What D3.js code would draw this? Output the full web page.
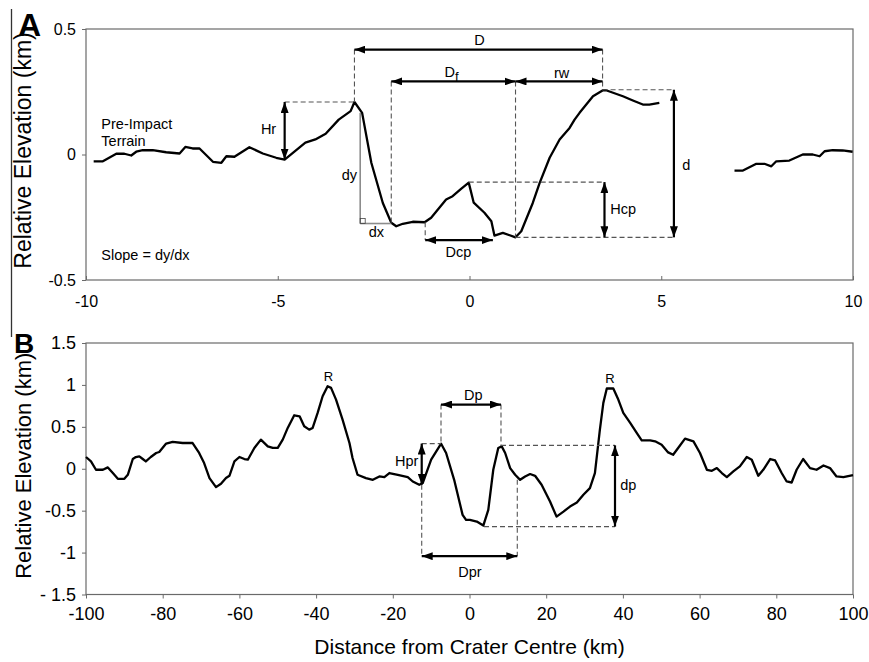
<!DOCTYPE html>
<html><head><meta charset="utf-8">
<script src="https://cdn.jsdelivr.net/npm/d3@7"></script>
<style>body{margin:0;background:#fff}</style>
</head><body>
<svg id="c" width="869" height="662"></svg>
<script>
// ---------- DATA ----------
// Panel A profile (km, km)
const profileA_west = [[-9.80,-0.027],[-9.56,-0.027],[-9.21,0.003],[-9.00,0.003],[-8.82,-0.004],[-8.69,0.011],[-8.52,0.017],[-8.26,0.017],[-7.91,0.009],[-7.56,0.004],[-7.41,0.030],[-7.22,0.024],[-7.04,0.024],[-6.69,-0.029],[-6.47,-0.033],[-6.34,-0.007],[-6.13,-0.009],[-5.74,0.029],[-5.39,0.004],[-5.04,-0.013],[-4.82,-0.020],[-4.28,0.047],[-4.02,0.060],[-3.75,0.083],[-3.41,0.139],[-3.10,0.173],[-3.00,0.209],[-2.80,0.166],[-2.56,-0.033],[-2.26,-0.193],[-2.04,-0.272],[-1.91,-0.286],[-1.74,-0.276],[-1.48,-0.268],[-1.17,-0.270],[-1.00,-0.252],[-0.61,-0.179],[-0.44,-0.166],[-0.22,-0.137],[-0.02,-0.112],[0.11,-0.192],[0.39,-0.232],[0.57,-0.266],[0.65,-0.323],[0.87,-0.312],[1.20,-0.330],[1.35,-0.306],[1.65,-0.193],[1.83,-0.113],[2.09,-0.013],[2.35,0.060],[2.61,0.106],[2.74,0.139],[2.87,0.166],[3.22,0.232],[3.48,0.256],[3.56,0.256],[4.00,0.232],[4.26,0.215],[4.52,0.199],[4.69,0.199],[4.95,0.206]];
const profileA_east = [[6.91,-0.064],[7.13,-0.064],[7.48,-0.037],[7.69,-0.037],[7.87,-0.047],[8.00,-0.027],[8.34,-0.024],[8.69,0.000],[8.95,0.000],[9.13,-0.007],[9.26,0.013],[9.47,0.017],[9.73,0.016],[9.99,0.011]];
const ticksAx = [-10,-5,0,5,10];
const tickLabelsAx = ["-10","-5","0","5","10"];
const ticksAy = [-0.5,0,0.5];
const tickLabelsAy = ["-0.5","0","0.5"];

// Panel B profile (km, km)
const profileB = [[-100.0,0.14],[-98.7,0.087],[-97.4,-0.012],[-95.6,-0.012],[-94.3,0.016],[-93.0,-0.051],[-91.7,-0.12],[-90.0,-0.12],[-89.1,-0.072],[-87.8,0.116],[-87.0,0.14],[-86.1,0.147],[-85.2,0.116],[-84.4,0.087],[-83.1,0.14],[-81.7,0.188],[-80.9,0.2],[-79.1,0.3],[-77.4,0.32],[-74.8,0.307],[-72.2,0.307],[-70.5,0.188],[-69.2,0.068],[-67.8,-0.111],[-66.1,-0.219],[-64.8,-0.179],[-63.5,-0.111],[-62.6,-0.084],[-61.3,0.087],[-60.0,0.14],[-58.7,0.116],[-57.8,0.108],[-56.1,0.248],[-54.4,0.347],[-52.6,0.267],[-51.3,0.248],[-50.0,0.248],[-48.7,0.347],[-47.4,0.487],[-45.7,0.638],[-44.3,0.626],[-43.1,0.506],[-41.8,0.467],[-40.9,0.487],[-39.6,0.666],[-38.3,0.865],[-37.0,0.984],[-36.1,0.965],[-34.8,0.825],[-33.1,0.586],[-31.3,0.307],[-30.5,0.128],[-29.2,-0.072],[-27.0,-0.111],[-25.2,-0.132],[-23.5,-0.092],[-22.2,-0.099],[-20.9,-0.051],[-18.7,-0.072],[-16.1,-0.099],[-14.8,-0.152],[-13.1,-0.191],[-12.2,-0.171],[-10.0,0.108],[-7.4,0.299],[-6.1,0.188],[-4.0,-0.132],[-1.8,-0.55],[-0.9,-0.61],[0.1,-0.61],[1.9,-0.63],[3.6,-0.678],[4.9,-0.49],[6.2,-0.012],[7.5,0.248],[8.4,0.267],[9.3,0.188],[10.6,0.008],[11.9,-0.072],[13.2,-0.132],[14.5,-0.092],[15.8,-0.063],[17.1,-0.084],[18.8,-0.191],[21.0,-0.391],[22.7,-0.571],[24.5,-0.511],[26.2,-0.451],[28.0,-0.403],[29.7,-0.311],[31.4,-0.231],[32.7,-0.051],[34.0,0.467],[34.9,0.786],[35.8,0.957],[37.5,0.957],[38.8,0.825],[40.1,0.666],[41.9,0.547],[43.6,0.427],[44.9,0.339],[47.1,0.339],[48.4,0.327],[50.1,0.287],[51.8,0.195],[53.1,0.167],[54.4,0.248],[56.2,0.359],[58.4,0.327],[60.1,0.188],[61.9,-0.012],[63.2,-0.024],[64.5,0.008],[65.8,-0.051],[67.1,-0.099],[68.8,-0.032],[70.5,0.028],[72.3,0.14],[73.6,0.108],[75.3,-0.084],[76.6,-0.012],[78.4,0.116],[79.7,0.099],[81.4,-0.051],[82.7,-0.152],[84.0,-0.164],[85.3,-0.012],[87.0,0.116],[88.8,0.008],[90.5,-0.012],[92.3,0.039],[94.0,0.008],[95.7,-0.092],[97.5,-0.099],[100.0,-0.075]];
const ticksBx = [-100,-80,-60,-40,-20,0,20,40,60,80,100];
const tickLabelsBx = ["-100","-80","-60","-40","-20","0","20","40","60","80","100"];
const ticksBy = [-1.5,-1,-0.5,0,0.5,1,1.5];
const tickLabelsBy = ["- 1.5","-1","-0.5","0","0.5","1","1.5"];

// Annotation geometry (data units)
const dashedA = [[-3.0,0.418,-3.0,0.209],[3.47,0.418,3.47,0.256],[-2.04,0.291,-2.04,-0.272],[1.20,0.291,1.20,-0.330],[-4.82,0.209,-3.0,0.209],[-0.02,-0.110,3.52,-0.110],[1.20,-0.330,5.33,-0.330],[3.47,0.258,5.33,0.258],[-1.155,-0.27,-1.155,-0.341]];
const arrowsA = [[-3.0,0.418,3.47,0.418],[-2.04,0.291,1.20,0.291],[1.20,0.291,3.47,0.291],[-4.82,0.209,-4.82,-0.020],[3.52,-0.110,3.52,-0.330],[5.33,0.258,5.33,-0.330],[-1.155,-0.341,0.61,-0.341]];
const greyA = [[-2.85,0.166,-2.85,-0.275],[-2.85,-0.275,-2.04,-0.275]];
const labelsA = [
  {t:"D",x:0.26,y:0.458,a:"middle"},
  {t:"rw",x:2.40,y:0.325,a:"middle"},
  {t:"Hr",x:-5.24,y:0.10,a:"middle"},
  {t:"dy",x:-3.13,y:-0.08,a:"middle"},
  {t:"dx",x:-2.43,y:-0.31,a:"middle"},
  {t:"Hcp",x:3.67,y:-0.219,a:"start"},
  {t:"d",x:5.55,y:-0.04,a:"start"},
  {t:"Dcp",x:-0.29,y:-0.39,a:"middle"},
  {t:"Pre-Impact",x:-9.60,y:0.12,a:"start"},
  {t:"Terrain",x:-9.60,y:0.053,a:"start"},
  {t:"Slope = dy/dx",x:-9.60,y:-0.402,a:"start"}
];
const labelDf = {x:-0.47,y:0.327};

const dashedB = [[-7.43,0.766,-7.43,0.30],[8.21,0.766,8.21,0.27],[-12.46,0.30,-7.43,0.30],[8.21,0.279,37.94,0.279],[3.78,-0.69,37.94,-0.69],[-12.46,-0.19,-12.46,-1.043],[12.46,-0.13,12.46,-1.043]];
const arrowsB = [[-7.43,0.766,8.21,0.766],[-12.46,0.30,-12.46,-0.19],[37.94,0.279,37.94,-0.69],[-12.46,-1.043,12.46,-1.043]];
const labelsB = [
  {t:"R",x:-36.8,y:1.104,a:"middle",s:13},
  {t:"R",x:36.6,y:1.073,a:"middle",s:13},
  {t:"Dp",x:1.0,y:0.885,a:"middle"},
  {t:"Hpr",x:-16.4,y:0.087,a:"middle"},
  {t:"dp",x:41.4,y:-0.19,a:"middle"},
  {t:"Dpr",x:0.13,y:-1.23,a:"middle"}
];

// ---------- DRAW ----------
const FONT = "Arial, 'Liberation Sans', Helvetica, sans-serif";
const svg = d3.select("#c").style("font-family", FONT);

const defs = svg.append("defs");
defs.append("marker").attr("id","ah").attr("viewBox","0 0 11 8")
  .attr("refX",11).attr("refY",4).attr("markerWidth",11).attr("markerHeight",8)
  .attr("markerUnits","userSpaceOnUse").attr("orient","auto-start-reverse")
  .append("path").attr("d","M0,0L11,4L0,8Z").attr("fill","#000");

const xA = d3.scaleLinear().domain([-10,10]).range([86,853]);
const yA = d3.scaleLinear().domain([-0.5,0.5]).range([280,29]);
const xB = d3.scaleLinear().domain([-100,100]).range([86,853]);
const yB = d3.scaleLinear().domain([-1.5,1.5]).range([594.5,343]);

// stray left rule
svg.append("line").attr("x1",11.5).attr("x2",11.5).attr("y1",9).attr("y2",337)
  .attr("stroke","#333").attr("stroke-width",1.3);

function panel(x, y, xt, xtl, yt, ytl, tickFs, inwardX) {
  const g = svg.append("g");
  const [x0,x1] = x.range(), [y0,y1] = y.range();
  g.append("rect").attr("x",x0).attr("y",y1).attr("width",x1-x0).attr("height",y0-y1)
    .attr("fill","none").attr("stroke","#6a6a6a").attr("stroke-width",1.2);
  const ax = g.append("g").attr("transform",`translate(0,${y0})`)
    .call(d3.axisBottom(x).tickValues(xt).tickSize(inwardX ? -4 : 4).tickPadding(inwardX ? 16 : 9).tickFormat((d,i)=>xtl[i]));
  const ay = g.append("g").attr("transform",`translate(${x0},0)`)
    .call(d3.axisLeft(y).tickValues(yt).tickSize(4).tickPadding(6).tickFormat((d,i)=>ytl[i]));
  [ax,ay].forEach(a=>{
    a.select(".domain").remove();
    a.selectAll("line").attr("stroke","#6a6a6a");
    a.selectAll("text").attr("font-size",tickFs).attr("font-family",FONT).attr("fill","#000");
  });
  return g;
}

panel(xA, yA, ticksAx, tickLabelsAx, ticksAy, tickLabelsAy, 16, true);
panel(xB, yB, ticksBx, tickLabelsBx, ticksBy, tickLabelsBy, 18, false);

// profiles
const lineA = d3.line().x(d=>xA(d[0])).y(d=>yA(d[1]));
const lineB = d3.line().x(d=>xB(d[0])).y(d=>yB(d[1]));
[profileA_west, profileA_east].forEach(p=>{
  svg.append("path").attr("d",lineA(p)).attr("fill","none").attr("stroke","#000")
    .attr("stroke-width",2.3).attr("stroke-linejoin","round");
});
svg.append("path").attr("d",lineB(profileB)).attr("fill","none").attr("stroke","#000")
  .attr("stroke-width",2.3).attr("stroke-linejoin","round");

// annotations
function drawAnn(x, y, dashed, arrows, labels) {
  const g = svg.append("g");
  g.selectAll(".dash").data(dashed).join("line")
    .attr("x1",d=>x(d[0])).attr("y1",d=>y(d[1])).attr("x2",d=>x(d[2])).attr("y2",d=>y(d[3]))
    .attr("stroke","#555").attr("stroke-width",1.1).attr("stroke-dasharray","5,3");
  g.selectAll(".arr").data(arrows).join("line")
    .attr("x1",d=>x(d[0])).attr("y1",d=>y(d[1])).attr("x2",d=>x(d[2])).attr("y2",d=>y(d[3]))
    .attr("stroke","#000").attr("stroke-width",2.2)
    .attr("marker-start","url(#ah)").attr("marker-end","url(#ah)");
  g.selectAll(".lab").data(labels).join("text")
    .attr("x",d=>x(d.x)).attr("y",d=>y(d.y)).attr("text-anchor",d=>d.a)
    .attr("dominant-baseline","central").attr("font-size",d=>d.s||14.5).attr("fill","#000")
    .text(d=>d.t);
  return g;
}
drawAnn(xA, yA, dashedA, arrowsA, labelsA);
drawAnn(xB, yB, dashedB, arrowsB, labelsB);

// dy/dx grey construction
svg.append("g").selectAll("line").data(greyA).join("line")
  .attr("x1",d=>xA(d[0])).attr("y1",d=>yA(d[1])).attr("x2",d=>xA(d[2])).attr("y2",d=>yA(d[3]))
  .attr("stroke","#8c8c8c").attr("stroke-width",1.6);
svg.append("rect").attr("x",xA(greyA[1][0])).attr("y",yA(greyA[1][1])-5).attr("width",5).attr("height",5)
  .attr("fill","none").attr("stroke","#444").attr("stroke-width",0.8);

// Df label with subscript
const df = svg.append("text").attr("x",xA(labelDf.x)).attr("y",yA(labelDf.y))
  .attr("text-anchor","middle").attr("dominant-baseline","central").attr("font-size",14.5);
df.append("tspan").text("D");
df.append("tspan").attr("dy",4).attr("font-size",13).text("f");

// panel letters
svg.append("text").attr("x",18).attr("y",36).attr("font-size",32).attr("font-weight","bold").text("A");
svg.append("text").attr("x",14).attr("y",353).attr("font-size",28).attr("font-weight","bold").text("B");

// axis titles
svg.append("text").attr("transform",`translate(31,${(yA.range()[0]+yA.range()[1])/2-4}) rotate(-90)`)
  .attr("text-anchor","middle").attr("font-size",23).text("Relative Elevation (km)");
svg.append("text").attr("transform",`translate(31,${(yB.range()[0]+yB.range()[1])/2-3}) rotate(-90)`)
  .attr("text-anchor","middle").attr("font-size",22).text("Relative Elevation (km)");
svg.append("text").attr("x",(xB.range()[0]+xB.range()[1])/2).attr("y",654)
  .attr("text-anchor","middle").attr("font-size",21).text("Distance from Crater Centre (km)");
</script>
</body></html>
